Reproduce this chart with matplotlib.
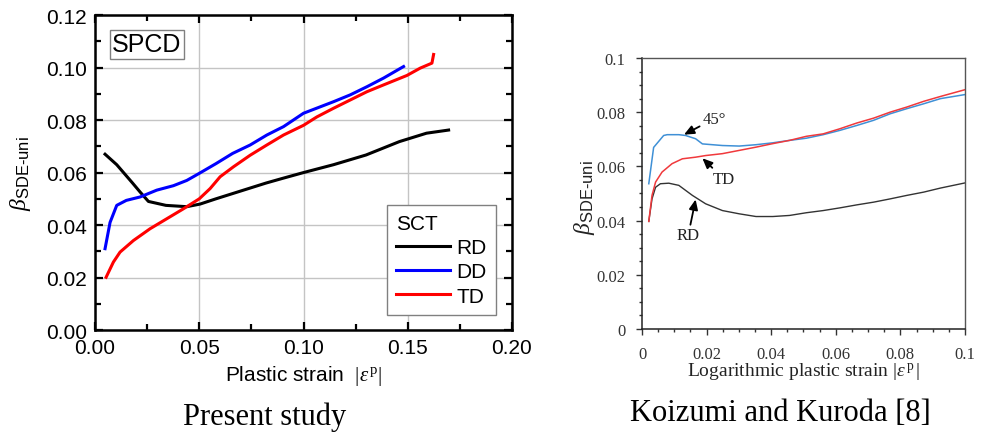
import matplotlib
matplotlib.use('Agg')
import matplotlib.pyplot as plt
from matplotlib.ticker import MultipleLocator, FuncFormatter

plt.rcParams['font.family'] = ['Liberation Sans', 'DejaVu Sans']
plt.rcParams['mathtext.fontset'] = 'custom'
plt.rcParams['mathtext.rm'] = 'Liberation Serif'
plt.rcParams['mathtext.it'] = 'Liberation Serif:italic'
plt.rcParams['mathtext.sf'] = 'Liberation Sans'

# (1) present study (SPCD, SCT)
rd_x = [0.0048, 0.0104, 0.018, 0.0216, 0.0256, 0.034, 0.044, 0.0504, 0.058, 0.066,
        0.074, 0.082, 0.090, 0.100, 0.1144, 0.130, 0.146, 0.159, 0.1696]
rd_y = [0.067, 0.063, 0.056, 0.0526, 0.049, 0.0475, 0.047, 0.048, 0.050, 0.052,
        0.054, 0.056, 0.0578, 0.060, 0.063, 0.0667, 0.0718, 0.075, 0.0762]

dd_x = [0.0048, 0.0072, 0.0104, 0.015, 0.0216, 0.0296, 0.0376, 0.044, 0.050, 0.058,
        0.066, 0.0744, 0.0824, 0.0904, 0.100, 0.1144, 0.1224, 0.1304, 0.1384, 0.148]
dd_y = [0.031, 0.041, 0.0475, 0.0494, 0.0507, 0.0533, 0.055, 0.057, 0.0597, 0.0634,
        0.0673, 0.0705, 0.0743, 0.0775, 0.0826, 0.087, 0.0896, 0.0927, 0.096, 0.1004]

td_x = [0.0053, 0.0088, 0.012, 0.0184, 0.0264, 0.0344, 0.0424, 0.050, 0.0552, 0.060,
        0.0664, 0.0744, 0.0824, 0.0904, 0.100, 0.1064, 0.1144, 0.1304, 0.1384, 0.1496,
        0.156, 0.1616, 0.1624]
td_y = [0.0201, 0.0259, 0.0297, 0.0341, 0.0386, 0.0424, 0.0462, 0.050, 0.0539, 0.0584,
        0.0622, 0.0666, 0.0705, 0.0743, 0.078, 0.0812, 0.0845, 0.0908, 0.0934, 0.097,
        0.0998, 0.1017, 0.105]

# (2) Koizumi and Kuroda [8]
k_rd_x = [0.0021, 0.0031, 0.0042, 0.0057, 0.0083, 0.0114, 0.0156, 0.0197, 0.0249, 0.0301,
          0.0353, 0.0405, 0.0457, 0.0509, 0.0561, 0.0613, 0.0665, 0.0717, 0.0768, 0.082,
          0.0872, 0.0924, 0.100]
k_rd_y = [0.0397, 0.048, 0.0523, 0.0536, 0.0538, 0.053, 0.0493, 0.0462, 0.0437, 0.0425,
          0.0415, 0.0415, 0.0419, 0.0429, 0.0437, 0.0447, 0.0458, 0.0468, 0.048, 0.0493,
          0.0505, 0.052, 0.0539]

k_45_x = [0.0021, 0.0036, 0.0067, 0.0078, 0.0114, 0.0135, 0.0166, 0.0187, 0.0249, 0.0301,
          0.0353, 0.0405, 0.0457, 0.0509, 0.0561, 0.0613, 0.0665, 0.0717, 0.0768, 0.082,
          0.0872, 0.0924, 0.100]
k_45_y = [0.0536, 0.067, 0.0714, 0.0717, 0.0717, 0.0714, 0.0702, 0.0683, 0.0677, 0.0675,
          0.068, 0.0687, 0.0696, 0.0704, 0.0717, 0.0733, 0.0751, 0.077, 0.0794, 0.0813,
          0.0831, 0.085, 0.0865]

k_td_x = [0.0021, 0.0031, 0.0042, 0.0062, 0.0093, 0.0125, 0.0166, 0.0197, 0.0249, 0.0301,
          0.0353, 0.0405, 0.0457, 0.0509, 0.0561, 0.0613, 0.0665, 0.0717, 0.0768, 0.082,
          0.0872, 0.0924, 0.100]
k_td_y = [0.0397, 0.0493, 0.0542, 0.0579, 0.061, 0.0628, 0.0634, 0.064, 0.0647, 0.0659,
          0.0671, 0.0684, 0.0696, 0.0711, 0.072, 0.0739, 0.076, 0.0778, 0.080, 0.0819,
          0.084, 0.0858, 0.0883]

ylab = r'$\beta_{\mathsf{SDE}\mathsf{‐uni}}$'

fig = plt.figure(figsize=(9.88, 4.35), dpi=100)

# ---- left panel ----
ax = fig.add_axes([0.0962, 0.239, 0.422, 0.724])
ax.plot(rd_x, rd_y, color='k', lw=2.2, label='RD')
ax.plot(dd_x, dd_y, color='#0000ff', lw=2.2, label='DD')
ax.plot(td_x, td_y, color='#ff0000', lw=2.2, label='TD')
ax.set_xlim(0, 0.2)
ax.set_ylim(0, 0.12)
ax.xaxis.set_major_locator(MultipleLocator(0.05))
ax.xaxis.set_minor_locator(MultipleLocator(0.025))
ax.yaxis.set_major_locator(MultipleLocator(0.02))
ax.yaxis.set_minor_locator(MultipleLocator(0.01))
ax.xaxis.set_major_formatter(FuncFormatter(lambda v, p: '%.2f' % v))
ax.yaxis.set_major_formatter(FuncFormatter(lambda v, p: '%.2f' % v))
ax.grid(True, which='major', color='#c4c4c4', lw=1)
ax.set_axisbelow(True)
ax.tick_params(which='both', direction='in', top=True, right=True, width=1.6,
               labelsize=15, pad=6)
ax.tick_params(which='major', length=6)
ax.tick_params(which='minor', length=4)
for s in ax.spines.values():
    s.set_linewidth(1.8)
ax.set_xlabel(r'Plastic strain  $|\varepsilon^{\,\mathrm{p}}|$', fontsize=15)
ax.xaxis.set_label_coords(0.5, -0.105)
ax.set_ylabel(ylab, fontsize=17)
ax.yaxis.set_label_coords(-0.15, 0.5)
ax.text(0.041, 0.945, 'SPCD', transform=ax.transAxes, fontsize=18, ha='left', va='top',
        bbox=dict(boxstyle='square,pad=0.1', fc='white', ec='#808080', lw=1))
leg = ax.legend(title='SCT', loc='lower right', bbox_to_anchor=(0.962, 0.048),
                borderaxespad=0, fontsize=15, title_fontsize=15, fancybox=False,
                edgecolor='#808080', framealpha=1, handlelength=2.6, handletextpad=0.3,
                labelspacing=0.25, borderpad=0.45)
leg._legend_box.align = 'left'
leg.get_frame().set_linewidth(1)

# ---- right panel ----
serif = ['Liberation Serif', 'DejaVu Serif']
bx = fig.add_axes([0.6498, 0.2414, 0.3269, 0.623])
bx.plot(k_rd_x, k_rd_y, color='#333333', lw=1)
bx.plot(k_45_x, k_45_y, color='#3f90d6', lw=1.1)
bx.plot(k_td_x, k_td_y, color='#f0393c', lw=1.1)
bx.set_xlim(0, 0.1)
bx.set_ylim(0, 0.1)
bx.xaxis.set_major_locator(MultipleLocator(0.02))
bx.xaxis.set_minor_locator(MultipleLocator(0.005))
bx.yaxis.set_major_locator(MultipleLocator(0.02))
bx.yaxis.set_minor_locator(MultipleLocator(0.005))
bx.xaxis.set_major_formatter(FuncFormatter(lambda v, p: '%g' % round(v, 3)))
bx.yaxis.set_major_formatter(FuncFormatter(lambda v, p: '%g' % round(v, 3)))
bx.tick_params(which='both', direction='out', colors='#333333', labelsize=12, width=1)
bx.tick_params(which='major', length=4, pad=8)
bx.tick_params(which='minor', length=2.5)
for lab in bx.get_xticklabels() + bx.get_yticklabels():
    lab.set_family(serif)
for side in ['left', 'bottom']:
    bx.spines[side].set_color('#222222')
    bx.spines[side].set_linewidth(1.1)
for side in ['top', 'right']:
    bx.spines[side].set_color('#555555')
    bx.spines[side].set_linewidth(1)
bx.set_xlabel(r'Logarithmic plastic strain $|\varepsilon^{\,\mathrm{p}}\,|$', fontsize=14,
              family=serif, color='#222222')
bx.xaxis.set_label_coords(0.5, -0.115)
bx.set_ylabel(ylab, fontsize=17, color='#222222')
bx.yaxis.set_label_coords(-0.14, 0.49)

arrow = dict(arrowstyle='-|>,head_length=0.5,head_width=0.22', color='k', lw=1.3,
             shrinkA=0, shrinkB=0)
bx.annotate('45°', xy=(0.013, 0.0717), xytext=(0.0187, 0.0776), family=serif, fontsize=12,
            ha='left', va='center', color='#222222', arrowprops=arrow)
bx.annotate('TD', xy=(0.0187, 0.063), xytext=(0.0218, 0.0555), family=serif, fontsize=12,
            ha='left', va='center', color='#222222', arrowprops=arrow)
bx.annotate('RD', xy=(0.0166, 0.0478), xytext=(0.0143, 0.0345), family=serif, fontsize=12,
            ha='center', va='center', color='#222222', arrowprops=arrow)

fig.text(0.268, 0.04, 'Present study', family=serif, fontsize=22, ha='center', va='center')
fig.text(0.79, 0.05, 'Koizumi and Kuroda [8]', family=serif, fontsize=22, ha='center',
         va='center')

fig.savefig('out.png', dpi=100)
